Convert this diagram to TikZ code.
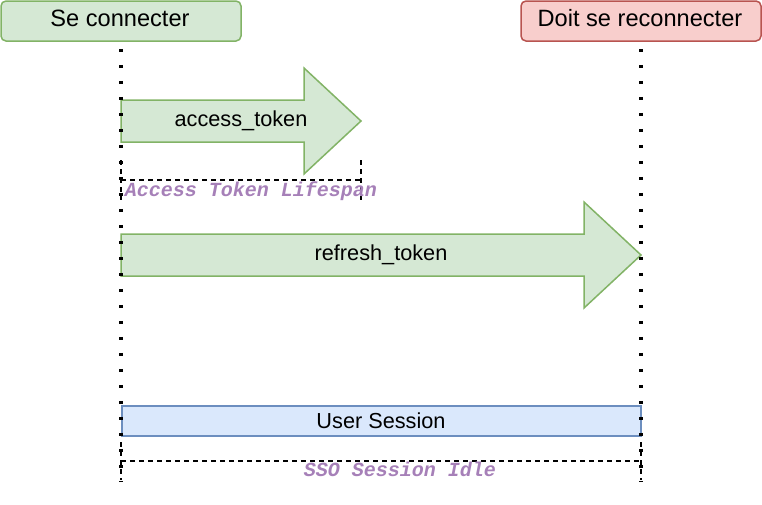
\documentclass[tikz,border=0pt]{standalone}
\usepackage{fontspec}
\setmainfont{Liberation Sans}
\newfontfamily\codefont{Liberation Mono}
\definecolor{greenfill}{HTML}{D5E8D4}
\definecolor{greenline}{HTML}{82B366}
\definecolor{redfill}{HTML}{F8CECC}
\definecolor{redline}{HTML}{B85450}
\definecolor{bluefill}{HTML}{DAE8FC}
\definecolor{blueline}{HTML}{6C8EBF}
\definecolor{lilac}{HTML}{A680B8}
\tikzset{
  state/.style={draw, rounded corners=5pt, line width=1.5pt, minimum width=240pt, minimum height=40pt, inner sep=0pt},
  biglabel/.style={font=\fontsize{23.6}{26}\selectfont, anchor=base},
  label/.style={font=\fontsize{21.7}{24}\selectfont, anchor=base},
  span/.style={font=\codefont\bfseries\itshape\fontsize{20}{22}\selectfont, text=lilac, anchor=base},
  lifeline/.style={line width=3.5pt, dash pattern=on 3.5pt off 12.5pt},
  measure/.style={line width=2pt, dash pattern=on 5pt off 4pt},
  token/.style={fill=greenfill, draw=greenline, line width=1.5pt},
}
\begin{document}
\begin{tikzpicture}[x=1pt, y=-1pt]
    \useasboundingbox (0,0) rectangle (762,504);
    % boxes on top
    \draw (121,21)  node[state, fill=greenfill, draw=greenline] (login) {};
    \draw (641,21)  node[state, fill=redfill, draw=redline] (relogin) {};
    \node[biglabel] (logintext) at (120,26.5) {Se connecter};
    \node[biglabel] (relogintext) at (640,26.5) {Doit se reconnecter};
    % token arrows
    \draw[token] (121,100) -- (304,100) -- (304,68) -- (361,121) -- (304,174) -- (304,142) -- (121,142) -- cycle;
    \draw[token] (121,234) -- (584,234) -- (584,202) -- (641,255) -- (584,308) -- (584,276) -- (121,276) -- cycle;
    \node[label] (access) at (241,126) {access\_token};
    \node[label] (refresh) at (381,260) {refresh\_token};
    % session
    \draw (381,421) node[fill=bluefill, draw=blueline, line width=2pt, minimum width=519pt, minimum height=30pt, inner sep=0pt] (session) {};
    \node[label] (sessiontext) at (381,428.5) {User Session};
    % lifespans
    \coordinate (a1) at (121,160);
    \coordinate (a2) at (361,160);
    \draw[measure] (a1) -- ++(0,40) (a2) -- ++(0,40)
          (121,180) -- (361,180);
    \node[span] (lifespan) at (251,196) {Access Token Lifespan};
    \coordinate (s1) at (121,442);
    \coordinate (s2) at (641,442);
    \draw[measure] (s1) -- ++(0,38) (s2) -- ++(0,38)
          (121,461) -- (641,461);
    \node[span] (idle) at (400,476.5) {SSO Session Idle};
    % time lines
    \coordinate (l1) at (121,482);
    \coordinate (l2) at (641,482);
    \draw[lifeline] ([yshift=-7pt]login.south) -- (l1);
    \draw[lifeline] ([yshift=-7pt]relogin.south) -- (l2);
\end{tikzpicture}
\end{document}
